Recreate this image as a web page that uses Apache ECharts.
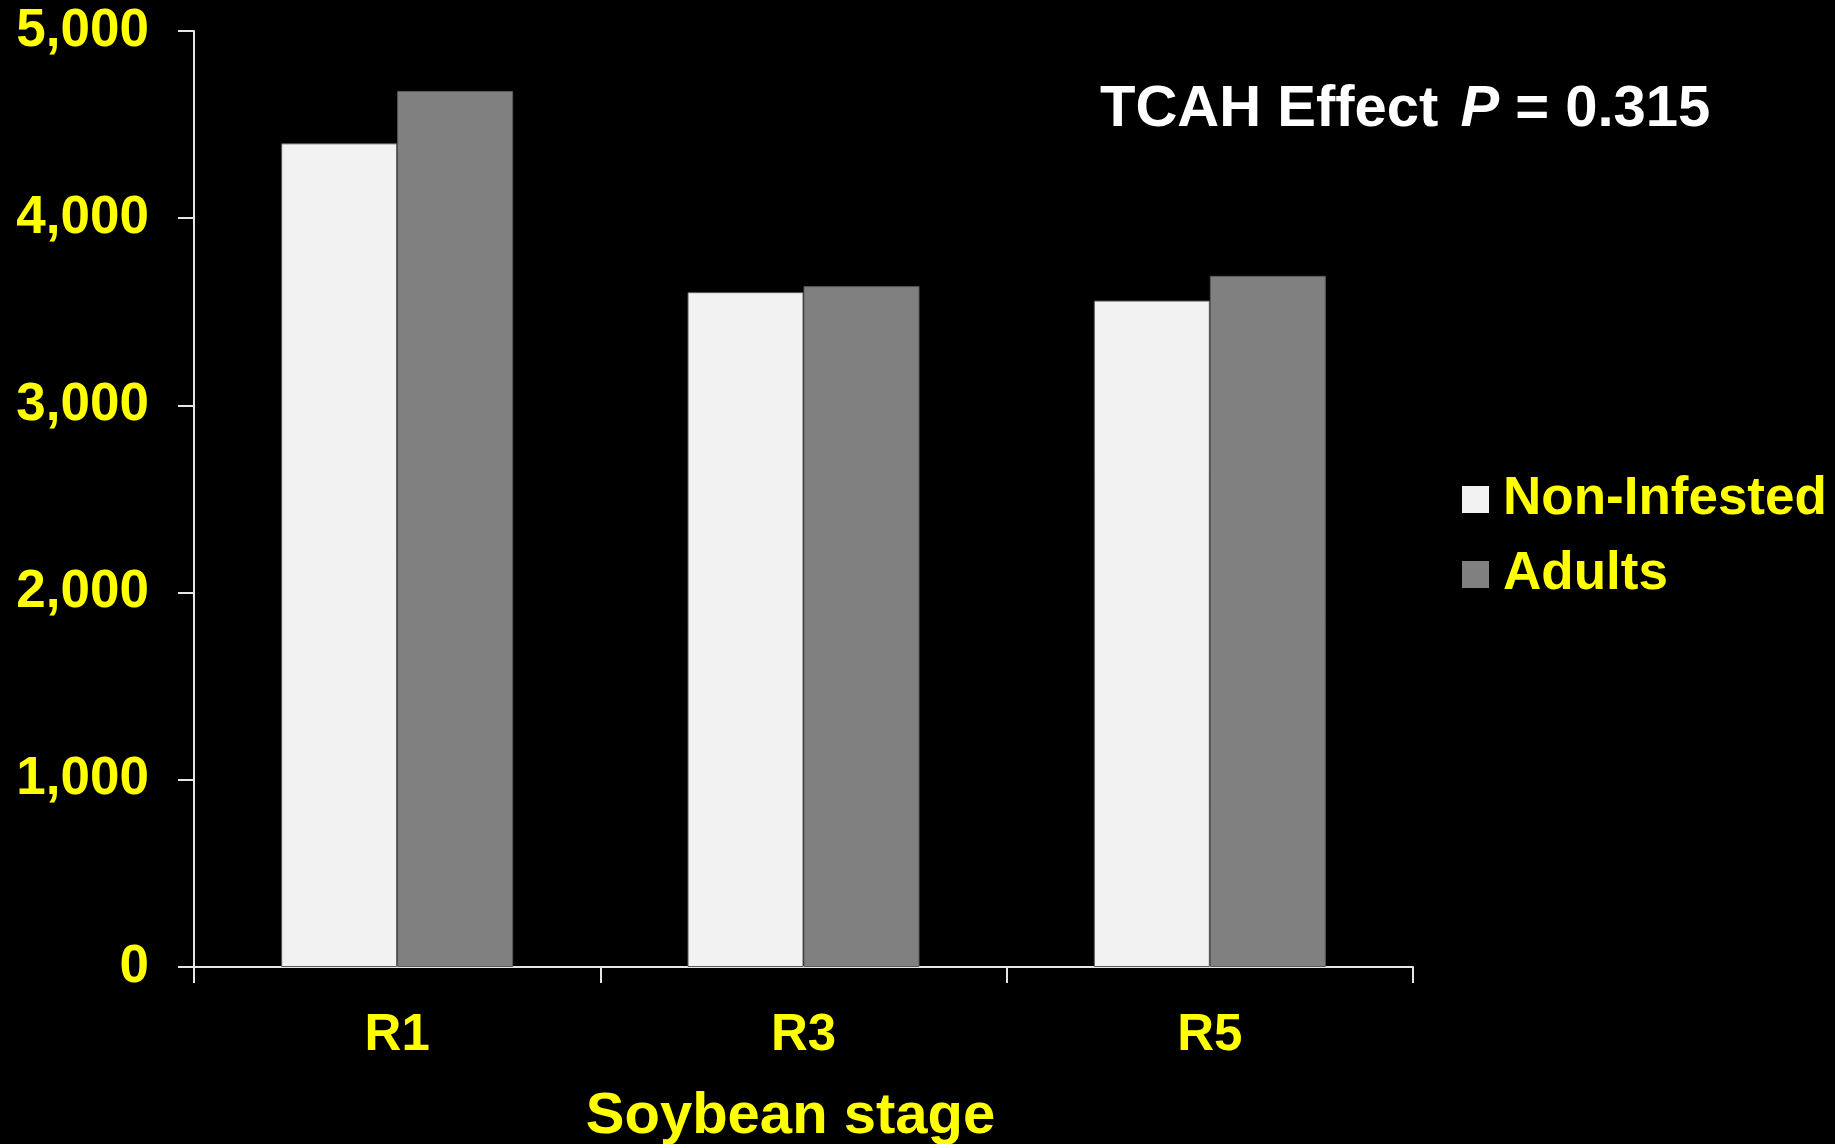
<!DOCTYPE html>
<html>
<head>
<meta charset="utf-8">
<script src="https://cdn.jsdelivr.net/npm/echarts@6/dist/echarts.min.js"></script>
<style>
html,body{margin:0;padding:0;background:#000;}
#chart{width:1835px;height:1144px;}
</style>
</head>
<body>
<div id="chart"></div>
<script>
const categories = ['R1', 'R3', 'R5'];
const nonInfested = [4400, 3605, 3560];
const adults = [4680, 3637, 3692];
const seriesNames = ['Non-Infested', 'Adults'];
const yTicks = [0, 1000, 2000, 3000, 4000, 5000];
const xAxisTitle = 'Soybean stage';
const effectLabel = 'TCAH Effect ';
const pValue = '0.315';

const FONT = '"Liberation Sans", Arial, Helvetica, sans-serif';
const chart = echarts.init(document.getElementById('chart'), null, {renderer: 'canvas'});

chart.setOption({
  backgroundColor: '#000000',
  animation: false,
  title: {
    text: '{a|' + effectLabel + '}{b|P}{a|= ' + pValue + '}',
    left: 1100,
    top: 81,
    padding: 0,
    textStyle: {
      rich: {
        a: {color: '#ffffff', fontSize: 58, fontWeight: 'bold', fontFamily: FONT, lineHeight: 58},
        b: {color: '#ffffff', fontSize: 58, fontWeight: 'bold', fontStyle: 'italic', fontFamily: FONT, lineHeight: 58, padding: [0, 16, 0, 6]}
      }
    }
  },
  legend: {
    orient: 'vertical',
    left: 1462,
    top: 473,
    padding: 0,
    itemGap: 22,
    itemWidth: 27,
    itemHeight: 27,
    icon: 'rect',
    data: seriesNames,
    itemStyle: {borderWidth: 0},
    textStyle: {
      color: '#ffff00', fontSize: 53, fontWeight: 'bold', fontFamily: FONT,
      lineHeight: 53, padding: [0, 0, 0, 9]
    }
  },
  grid: {left: 194, right: 422, top: 31, bottom: 177, containLabel: false, outerBoundsMode: 'none'},
  xAxis: {
    type: 'category',
    data: categories,
    name: xAxisTitle,
    nameLocation: 'middle',
    nameGap: 121,
    nameTextStyle: {
      color: '#ffff00', fontSize: 58, fontWeight: 'bold', fontFamily: FONT,
      lineHeight: 58, padding: [0, 26, 0, 0]
    },
    axisLine: {show: true, lineStyle: {color: '#e6e6e6', width: 2}},
    axisTick: {show: true, alignWithLabel: false, length: 16, lineStyle: {color: '#e6e6e6', width: 2}},
    axisLabel: {
      color: '#ffff00', fontSize: 51, fontWeight: 'bold', fontFamily: FONT,
      lineHeight: 51, margin: 43
    },
    splitLine: {show: false}
  },
  yAxis: {
    type: 'value',
    min: yTicks[0],
    max: yTicks[yTicks.length - 1],
    interval: yTicks[1] - yTicks[0],
    axisLine: {show: true, lineStyle: {color: '#e6e6e6', width: 2}},
    axisTick: {show: true, length: 16, lineStyle: {color: '#e6e6e6', width: 2}},
    axisLabel: {
      color: '#ffff00', fontSize: 53, fontWeight: 'bold', fontFamily: FONT,
      margin: 45, lineHeight: 53, padding: [4, 0, 0, 0],
      formatter: v => v.toLocaleString('en-US')
    },
    splitLine: {show: false}
  },
  series: [
    {
      name: seriesNames[0],
      type: 'bar',
      data: nonInfested,
      barWidth: 116,
      barGap: '0%',
      itemStyle: {color: '#f2f2f2', borderColor: '#5a5a5a', borderWidth: 1}
    },
    {
      name: seriesNames[1],
      type: 'bar',
      data: adults,
      barWidth: 116,
      barGap: '0%',
      itemStyle: {color: '#808080', borderColor: '#5a5a5a', borderWidth: 1}
    }
  ]
});
</script>
</body>
</html>
